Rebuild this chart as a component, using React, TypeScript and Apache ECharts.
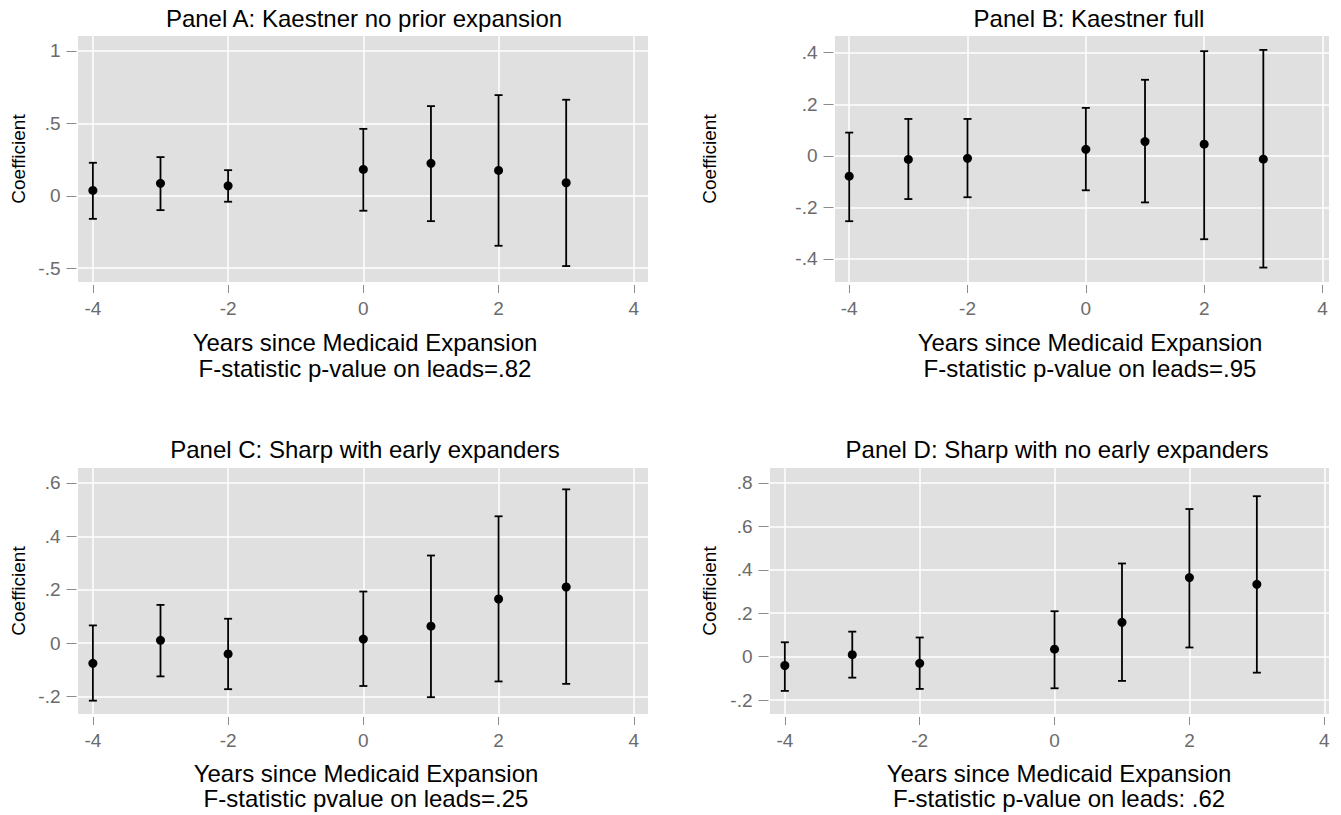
import React, { useEffect, useRef } from "react";
import * as echarts from "echarts";

// ---------------- data ----------------
const years = [-4, -3, -2, 0, 1, 2, 3];

const coefA = [0.037, 0.086, 0.069, 0.182, 0.224, 0.175, 0.09];
const lowA = [-0.159, -0.099, -0.041, -0.103, -0.175, -0.345, -0.485];
const highA = [0.228, 0.267, 0.177, 0.462, 0.619, 0.695, 0.663];

const coefB = [-0.079, -0.014, -0.01, 0.025, 0.055, 0.045, -0.013];
const lowB = [-0.254, -0.168, -0.161, -0.134, -0.181, -0.324, -0.434];
const highB = [0.09, 0.143, 0.143, 0.186, 0.295, 0.406, 0.411];

const coefC = [-0.076, 0.01, -0.041, 0.015, 0.063, 0.165, 0.21];
const lowC = [-0.216, -0.125, -0.173, -0.161, -0.203, -0.144, -0.153];
const highC = [0.066, 0.143, 0.091, 0.193, 0.328, 0.475, 0.576];

const coefD = [-0.041, 0.009, -0.031, 0.034, 0.158, 0.364, 0.333];
const lowD = [-0.158, -0.097, -0.149, -0.146, -0.112, 0.042, -0.074];
const highD = [0.066, 0.115, 0.088, 0.209, 0.429, 0.68, 0.739];

const xTicks = [-4, -2, 0, 2, 4];
const yTicksA = [-0.5, 0, 0.5, 1];
const yTicksB = [-0.4, -0.2, 0, 0.2, 0.4];
const yTicksC = [-0.2, 0, 0.2, 0.4, 0.6];
const yTicksD = [-0.2, 0, 0.2, 0.4, 0.6, 0.8];

const panelTitles = [
  "Panel A: Kaestner no prior expansion",
  "Panel B: Kaestner full",
  "Panel C: Sharp with early expanders",
  "Panel D: Sharp with no early expanders",
];
const xTitle = "Years since Medicaid Expansion";
const pLines = [
  "F-statistic p-value on leads=.82",
  "F-statistic p-value on leads=.95",
  "F-statistic pvalue on leads=.25",
  "F-statistic p-value on leads: .62",
];
const yTitle = "Coefficient";

// ---------------- layout ----------------
const FONT = '"Liberation Sans", Arial, Helvetica, sans-serif';

const panels = [
  { coef: coefA, low: lowA, high: highA, yTicks: yTicksA,
    grid: { left: 78, top: 36, width: 570, height: 246 },
    x: [-4.22, 4.21], y: [-0.595, 1.103],
    titleX: 364, titleY: 18, axX: 365, axY1: 342, axY2: 368, coefX: 18, coefY: 159 },
  { coef: coefB, low: lowB, high: highB, yTicks: yTicksB,
    grid: { left: 835, top: 36, width: 494, height: 246 },
    x: [-4.24, 4.11], y: [-0.49, 0.465],
    titleX: 1089, titleY: 18, axX: 1090, axY1: 342, axY2: 368, coefX: 709, coefY: 159 },
  { coef: coefC, low: lowC, high: highC, yTicks: yTicksC,
    grid: { left: 78, top: 468, width: 570, height: 246 },
    x: [-4.22, 4.21], y: [-0.266, 0.656],
    titleX: 365, titleY: 449.5, axX: 366, axY1: 773.5, axY2: 798.5, coefX: 18, coefY: 591 },
  { coef: coefD, low: lowD, high: highD, yTicks: yTicksD,
    grid: { left: 770, top: 468, width: 559, height: 246 },
    x: [-4.22, 4.07], y: [-0.2645, 0.869],
    titleX: 1057, titleY: 449.5, axX: 1059, axY1: 773.5, axY2: 798.5, coefX: 709, coefY: 591 },
];

function stataFmt(v: number): string {
  if (Math.abs(v) < 1e-9) return "0";
  let s = String(+v.toFixed(3));
  s = s.replace(/^0\./, ".").replace(/^-0\./, "-.");
  return s;
}

function buildOption() {
  const grid: any[] = [];
  const xAxis: any[] = [];
  const yAxis: any[] = [];
  const series: any[] = [];
  const elements: any[] = [];

  panels.forEach((p, i) => {
    grid.push({
      ...p.grid,
      show: true,
      backgroundColor: "#e0e0e0",
      borderWidth: 0,
      containLabel: false,
    });
    xAxis.push({
      type: "value",
      gridIndex: i,
      position: "bottom",
      min: p.x[0],
      max: p.x[1],
      offset: 3,
      axisLine: { show: false, onZero: false },
      axisTick: {
        show: true,
        length: 8,
        customValues: xTicks,
        lineStyle: { color: "#8c8c8c", width: 1 },
      },
      axisLabel: {
        customValues: xTicks,
        margin: 14,
        fontSize: 19,
        color: "#6b6b6b",
        fontFamily: FONT,
        formatter: (v: number) => stataFmt(v),
      },
      splitLine: { show: true, lineStyle: { color: "#ffffff", width: 1.5 } },
    });
    yAxis.push({
      type: "value",
      gridIndex: i,
      position: "left",
      min: p.y[0],
      max: p.y[1],
      offset: 1.5,
      axisLine: { show: false, onZero: false },
      axisTick: {
        show: true,
        length: 10,
        customValues: p.yTicks,
        lineStyle: { color: "#8c8c8c", width: 1 },
      },
      axisLabel: {
        customValues: p.yTicks,
        margin: 16,
        fontSize: 19,
        color: "#6b6b6b",
        fontFamily: FONT,
        formatter: (v: number) => stataFmt(v),
      },
      splitLine: { show: true, lineStyle: { color: "#ffffff", width: 1.5 } },
    });

    series.push({
      type: "custom",
      xAxisIndex: i,
      yAxisIndex: i,
      encode: { x: 0, y: [1, 2] },
      data: years.map((yr, j) => [yr, p.low[j], p.high[j]]),
      renderItem: (_params: any, api: any) => {
        const x = api.value(0);
        const lo = api.value(1);
        const hi = api.value(2);
        const a = api.coord([x, hi]);
        const b = api.coord([x, lo]);
        const w = 4;
        const style = { stroke: "#000000", lineWidth: 1.8, fill: "none" };
        return {
          type: "group",
          children: [
            { type: "line", shape: { x1: a[0], y1: a[1], x2: b[0], y2: b[1] }, style },
            { type: "line", shape: { x1: a[0] - w, y1: a[1], x2: a[0] + w, y2: a[1] }, style },
            { type: "line", shape: { x1: b[0] - w, y1: b[1], x2: b[0] + w, y2: b[1] }, style },
          ],
        };
      },
      z: 2,
    });
    series.push({
      type: "scatter",
      xAxisIndex: i,
      yAxisIndex: i,
      symbol: "circle",
      symbolSize: 9,
      itemStyle: { color: "#000000", opacity: 1 },
      data: years.map((yr, j) => [yr, p.coef[j]]),
      z: 3,
    });

    const txt = (x: number, y: number, text: string, size: number, rot = 0) => ({
      type: "text",
      x,
      y,
      rotation: rot,
      style: {
        text,
        fontSize: size,
        fontFamily: FONT,
        fill: "#000000",
        align: "center",
        verticalAlign: "middle",
      },
    });
    elements.push(txt(p.titleX, p.titleY, panelTitles[i], 24));
    elements.push(txt(p.axX, p.axY1, xTitle, 24));
    elements.push(txt(p.axX, p.axY2, pLines[i], 24));
    elements.push(txt(p.coefX, p.coefY, yTitle, 19, Math.PI / 2));
  });

  return {
    animation: false,
    backgroundColor: "#ffffff",
    grid,
    xAxis,
    yAxis,
    series,
    graphic: { elements },
  };
}

export default function App() {
  const ref = useRef<HTMLDivElement>(null);
  useEffect(() => {
    document.body.style.margin = "0";
    if (!ref.current) return;
    const chart = echarts.init(ref.current, undefined, { renderer: "svg" });
    chart.setOption(buildOption() as any);
    return () => {
      chart.dispose();
    };
  }, []);
  return (
    <div
      ref={ref}
      style={{ position: "absolute", left: 0, top: 0, width: 1341, height: 815, background: "#fff" }}
    />
  );
}
